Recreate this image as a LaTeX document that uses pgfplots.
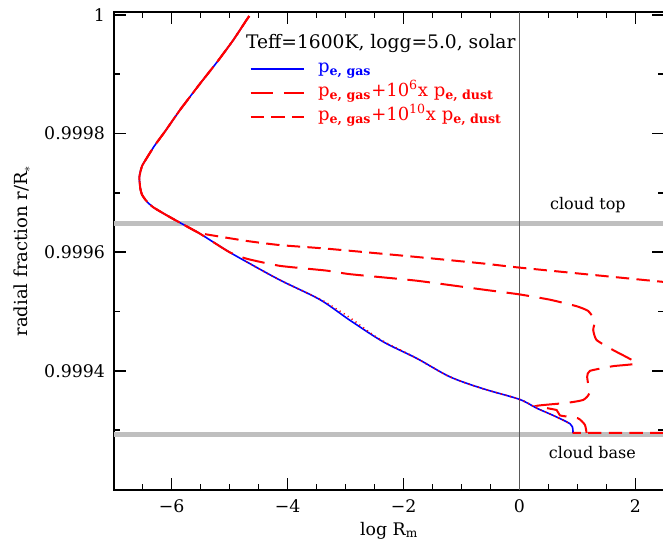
\documentclass[border=0pt]{standalone}
\usepackage{fontspec}
\setmainfont{DejaVu Serif}
\newfontfamily\tickfont{DejaVu Serif}
\usepackage{pgfplots}
\pgfplotsset{compat=1.18}

% main curve (p_e,gas), r/R* against log R_m
\pgfplotstableread{
x y
-4.66 0.999998
-4.71 0.999991
-4.94 0.999957
-5.22 0.999920
-5.51 0.999884
-5.86 0.999839
-6.11 0.999804
-6.29 0.999780
-6.42 0.999760
-6.51 0.999745
-6.555 0.999727
-6.54 0.999708
-6.51 0.999697
-6.44 0.999687
-6.32 0.999676
-6.08 0.999662
-5.86 0.999650
-5.54 0.999633
-5.28 0.999617
-5.00 0.999600
-4.71 0.999584
-4.13 0.999553
-3.44 0.999520
-2.92 0.999485
-2.35 0.999449
-1.77 0.999421
-1.20 0.999390
-0.63 0.999370
0.00 0.999352
0.30 0.999337
0.58 0.999325
0.87 0.999311
0.92 0.999302
0.92 0.999295
}\gas

\pgfplotstableread{
x y
-4.66 0.999998
-4.71 0.999991
-4.94 0.999957
-5.22 0.999920
-5.51 0.999884
-5.86 0.999839
-6.11 0.999804
-6.29 0.999780
-6.42 0.999760
-6.51 0.999745
-6.555 0.999727
-6.54 0.999708
-6.51 0.999697
-6.44 0.999687
-6.32 0.999676
-6.08 0.999662
-5.86 0.999650
-5.54 0.999633
-5.28 0.999617
-5.00 0.999600
-4.705 0.999589
-4.131 0.999577
-3.326 0.999569
-2.924 0.999563
-1.774 0.999552
-0.626 0.999537
-0.005 0.999529
0.524 0.999520
0.984 0.999509
1.184 0.999501
1.300 0.999485
1.271 0.999469
1.329 0.999452
1.616 0.999435
2.019 0.999413
1.616 0.999408
1.214 0.999400
1.167 0.999390
1.202 0.999362
1.098 0.999351
0.812 0.999346
0.295 0.999341
0.640 0.999334
0.697 0.999325
1.012 0.999320
1.128 0.999309
1.157 0.9992955
}\dustsix

\pgfplotstableread{
x y
-4.66 0.999998
-4.71 0.999991
-4.94 0.999957
-5.22 0.999920
-5.51 0.999884
-5.86 0.999839
-6.11 0.999804
-6.29 0.999780
-6.42 0.999760
-6.51 0.999745
-6.555 0.999727
-6.54 0.999708
-6.51 0.999697
-6.44 0.999687
-6.32 0.999676
-6.08 0.999662
-5.86 0.999650
-5.54 0.999633
-5.395 0.999630
-4.705 0.999619
-4.131 0.999612
-3.326 0.999606
-1.774 0.999592
-0.626 0.999581
0.007 0.999574
2.478 0.999550
3.0 0.999545
3.4 0.999500
3.4 0.999300
3.0 0.9992955
0.916 0.9992955
}\dustten

\pgfplotstableread{
x y
-4.71 0.999584
-4.13 0.999553
-3.44 0.999521
-3.20 0.999507
-2.90 0.999488
-2.60 0.999466
-2.35 0.999450
-1.77 0.999421
-1.20 0.999390
-0.63 0.999370
0.00 0.999352
0.30 0.999337
0.58 0.999325
0.87 0.999311
}\dotted

\begin{document}
\begin{tikzpicture}
\begin{axis}[scale only axis,width=413.2pt,height=358pt,
  xmin=-7,xmax=2.5,ymin=0.9992,ymax=1.0000044,
  xtick={-6,-4,-2,0,2},xticklabels={\mbox{−6},\mbox{−4},\mbox{−2},\mbox{0},\mbox{2}},
  minor xtick={-7,-6.5,...,2.5},
  ytick={0.9994,0.9996,0.9998,1},yticklabels={\mbox{0.9994},\mbox{0.9996},\mbox{0.9998},\mbox{1}},
  minor ytick={0.9993,0.9995,0.9997,0.9999},
  tick align=inside,major tick length=9pt,minor tick length=4.5pt,
  every tick/.style={black,line width=1.1pt},
  axis line style={line width=1.5pt},
  tick label style={font=\tickfont\fontsize{13}{15}\selectfont},
  xticklabel shift=4pt,yticklabel shift=3pt,
  xlabel={log R$_{\mathrm{m}}$},
  ylabel={radial fraction r/R$_*$},
  xlabel style={font=\fontsize{13}{15}\selectfont,at={(axis description cs:0.5,-0.0955)},anchor=base},
  ylabel style={font=\fontsize{13.5}{16}\selectfont,at={(axis description cs:-0.166,0.5)},anchor=center},
  legend style={at={(axis cs:-4.66,0.999926)},anchor=north west,draw=none,fill=none,
    inner sep=0pt,row sep=3pt,column sep=9pt,font=\fontsize{13.5}{15}\selectfont,
    nodes={text height=9pt,text depth=4pt,inner sep=1pt}},
  legend cell align=left,
  legend image code/.code={\draw[#1] (0pt,0pt) -- (40pt,0pt);},
]
\coordinate (SW) at (rel axis cs:0,0);
\coordinate (NE) at (rel axis cs:1,1);
\addplot[black!25,line width=3.75pt,forget plot] coordinates {(-7,0.999649) (2.5,0.999649)};
\addplot[black!25,line width=3.75pt,forget plot] coordinates {(-7,0.9992925) (2.5,0.9992925)};
\addplot[black!65,line width=0.9pt,forget plot] coordinates {(0,0.9992) (0,1.0000044)};
\addplot[blue,line width=1.2pt,smooth,tension=0.5] table {\gas};
\addlegendentry{\textcolor{blue}{p\textsubscript{\textbf{e, gas}}}}
\addplot[red,line width=1.5pt,smooth,tension=0.3,dash pattern=on 17pt off 8pt] table {\dustsix};
\addlegendentry{\textcolor{red}{p\textsubscript{\textbf{e, gas}}+10\textsuperscript{6}x p\textsubscript{\textbf{e, dust}}}}
\addplot[red,line width=1.5pt,smooth,tension=0.3,dash pattern=on 10pt off 5.5pt] table {\dustten};
\addlegendentry{\textcolor{red}{p\textsubscript{\textbf{e, gas}}+10\textsuperscript{10}x p\textsubscript{\textbf{e, dust}}}}
\addplot[red,line width=1.2pt,smooth,tension=0.5,dash pattern=on 0.8pt off 2.8pt,forget plot] table {\dotted};
\node[anchor=base west,font=\fontsize{14}{16}\selectfont] at (axis cs:-4.795,0.999944) {Teff=1600K, logg=5.0, solar};
\node[anchor=base,font=\fontsize{12}{14}\selectfont] at (axis cs:1.18,0.9996725) {cloud top};
\node[anchor=base,font=\fontsize{12}{14}\selectfont] at (axis cs:1.257,0.9992524) {cloud base};
\end{axis}
\pgfresetboundingbox
\path[use as bounding box] ([xshift=-85.2pt,yshift=-39.5pt]SW) rectangle ([xshift=-1.1pt,yshift=9.2pt]NE);
\end{tikzpicture}
\end{document}
